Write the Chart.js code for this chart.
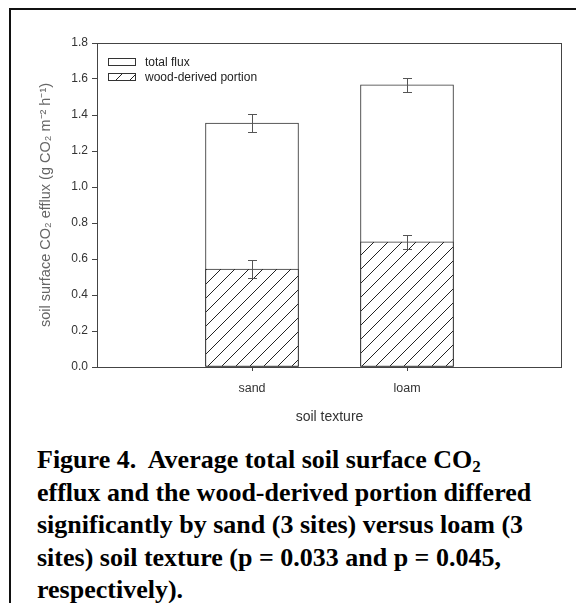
<!DOCTYPE html>
<html>
<head>
<meta charset="utf-8">
<script src="https://cdn.jsdelivr.net/npm/chart.js@4"></script>
<style>
  html, body { margin: 0; padding: 0; background: #fff; }
  body { width: 576px; height: 603px; position: relative; overflow: hidden; }
  #frame { position: absolute; left: 9px; top: 8px; right: 0; bottom: 0;
           border-left: 2px solid #111; border-top: 2px solid #111; }
  #wrap { position: absolute; left: 0; top: 0; width: 576px; height: 430px; }
  #caption { position: absolute; left: 37px; top: 444px; white-space: nowrap;
             font: bold 26px "Liberation Serif", "Times New Roman", serif;
             line-height: 32.5px; color: #000; }
  #caption sub { font-size: 17px; line-height: 0; vertical-align: -4px; }
</style>
</head>
<body>
<div id="frame"></div>
<div id="wrap"><canvas id="graph" width="576" height="430"></canvas></div>
<div id="caption">Figure 4.&nbsp; Average total soil surface CO<sub>2</sub><br>efflux and the wood-derived portion differed<br>significantly by sand (3 sites) versus loam (3<br>sites) soil texture (p = 0.033 and p = 0.045,<br>respectively).</div>
<script>
const categories = ['sand', 'loam'];
const totalFlux = [1.355, 1.567];
const totalErr = [0.05, 0.038];
const woodPortion = [0.544, 0.695];
const woodErr = [0.05, 0.037];
const yTicks = [0, 0.2, 0.4, 0.6, 0.8, 1.0, 1.2, 1.4, 1.6, 1.8];

// empty slots at both ends so the two bars sit at 1/3 and 2/3 of the axis
const labels = ['', ...categories, ''];
const pad = (arr) => [null, ...arr, null];

Chart.defaults.font.family = '"Liberation Sans", Arial, sans-serif';

function makeHatch() {
  const c = document.createElement('canvas');
  c.width = 14;
  c.height = 14;
  const g = c.getContext('2d');
  g.fillStyle = '#fff';
  g.fillRect(0, 0, 14, 14);
  g.strokeStyle = '#222';
  g.lineWidth = 1;
  g.beginPath();
  g.moveTo(0, 14); g.lineTo(14, 0);
  g.moveTo(-1, 1); g.lineTo(1, -1);
  g.moveTo(13, 15); g.lineTo(15, 13);
  g.stroke();
  return g.createPattern(c, 'repeat');
}

const frameAndErrors = {
  id: 'frameAndErrors',
  afterDatasetsDraw(chart) {
    const { ctx, chartArea: a, scales } = chart;
    ctx.save();
    // error bars
    ctx.strokeStyle = '#555';
    ctx.lineWidth = 1;
    chart.data.datasets.forEach((ds, di) => {
      if (!ds.errors) return;
      const meta = chart.getDatasetMeta(di);
      ds.data.forEach((v, i) => {
        if (v === null) return;
        const x = Math.round(meta.data[i].x) + 0.5;
        const yt = Math.round(scales.y.getPixelForValue(v + ds.errors[i])) + 0.5;
        const yb = Math.round(scales.y.getPixelForValue(v - ds.errors[i])) + 0.5;
        ctx.beginPath();
        ctx.moveTo(x, yt); ctx.lineTo(x, yb);
        ctx.moveTo(x - 4.5, yt); ctx.lineTo(x + 4.5, yt);
        ctx.moveTo(x - 4.5, yb); ctx.lineTo(x + 4.5, yb);
        ctx.stroke();
      });
    });
    // plot frame
    ctx.strokeStyle = '#444';
    ctx.strokeRect(a.left + 0.5, a.top + 0.5, a.width - 1, a.height);
    ctx.restore();
  },
  afterDraw(chart) {
    const { ctx, chartArea: a } = chart;
    ctx.save();
    ctx.font = '12px "Liberation Sans", Arial, sans-serif';
    ctx.textBaseline = 'middle';
    chart.data.datasets.forEach((ds, i) => {
      const x = a.left + 11.5;
      const y = a.top + 15.5 + i * 15;
      ctx.fillStyle = ds.backgroundColor;
      ctx.fillRect(x, y, 27, 7);
      ctx.strokeStyle = '#333';
      ctx.lineWidth = 1;
      ctx.strokeRect(x, y, 27, 7);
      ctx.fillStyle = '#222';
      ctx.fillText(ds.label, a.left + 48, y + 4);
    });
    ctx.restore();
  }
};

const hatch = makeHatch();

new Chart(document.getElementById('graph'), {
  type: 'bar',
  data: {
    labels: labels,
    datasets: [
      {
        label: 'total flux',
        data: pad(totalFlux),
        errors: pad(totalErr),
        backgroundColor: '#fff',
        borderColor: '#333',
        borderWidth: 1,
        borderSkipped: false,
        barThickness: 93,
        grouped: false,
        order: 2,
      },
      {
        label: 'wood-derived portion',
        data: pad(woodPortion),
        errors: pad(woodErr),
        backgroundColor: hatch,
        borderColor: '#333',
        borderWidth: 1,
        borderSkipped: false,
        barThickness: 93,
        grouped: false,
        order: 1,
      },
    ],
  },
  options: {
    responsive: false,
    animation: false,
    devicePixelRatio: 1,
    layout: { padding: { left: 0, right: 14, top: 43, bottom: 0 } },
    plugins: { legend: { display: false }, tooltip: { enabled: false } },
    scales: {
      x: {
        offset: false,
        border: { display: false },
        grid: {
          offset: false,
          drawOnChartArea: false,
          tickLength: 4,
          tickColor: (c) => (c.index === 0 || c.index === labels.length - 1) ? 'rgba(0,0,0,0)' : '#444',
        },
        ticks: { font: { size: 12.5 }, color: '#333', padding: 10, maxRotation: 0, autoSkip: false },
        title: { display: true, text: 'soil texture', font: { size: 14 }, color: '#333', padding: { top: 0, bottom: 4 } },
        afterFit: (s) => { s.height = 63; },
      },
      y: {
        min: 0,
        max: 1.8,
        border: { display: false },
        grid: { drawOnChartArea: false, tickLength: 5, tickColor: '#444' },
        afterBuildTicks: (s) => { s.ticks = yTicks.map((v) => ({ value: v })); },
        ticks: { font: { size: 12 }, color: '#333', padding: 4, callback: (v) => v.toFixed(1) },
        title: {
          display: true,
          text: 'soil surface CO₂ efflux (g CO₂ m⁻² h⁻¹)',
          font: { size: 14.5 },
          color: '#666',
          padding: { top: 37, bottom: 0 },
        },
        afterFit: (s) => { s.width = 97; },
      },
    },
  },
  plugins: [frameAndErrors],
});
</script>
</body>
</html>
